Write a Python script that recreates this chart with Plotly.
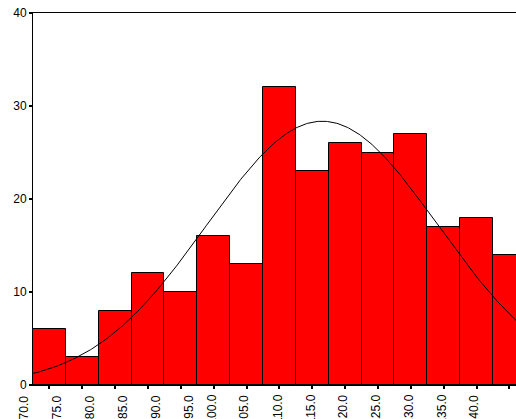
import numpy as np
import plotly.graph_objects as go

# Histogram bins (midpoints) and their frequencies
bin_mids = [70, 75, 80, 85, 90, 95, 100, 105, 110, 115, 120, 125, 130, 135, 140]
counts = [6, 3, 8, 12, 10, 16, 13, 32, 23, 26, 25, 27, 17, 18, 14]
bin_width = 5
tick_labels = [f"{v:.1f}" for v in bin_mids]
y_ticks = [0, 10, 20, 30, 40]

FONT = "Arial, 'Liberation Sans', sans-serif"

# Normal curve fitted to the binned data, scaled to counts per bin
mids = np.array(bin_mids, dtype=float)
freq = np.array(counts, dtype=float)
n_total = freq.sum()
mean = (mids * freq).sum() / n_total
sd = np.sqrt(((mids - mean) ** 2 * freq).sum() / (n_total - 1))
xs = np.linspace(mids[0] - bin_width, mids[-1] + bin_width, 400)
ys = n_total * bin_width / (sd * np.sqrt(2 * np.pi)) * np.exp(-0.5 * ((xs - mean) / sd) ** 2)

fig = go.Figure()
fig.add_trace(go.Bar(
    x=bin_mids, y=counts, width=bin_width,
    marker=dict(color="#FF0000", line=dict(color="black", width=1)),
    hoverinfo="x+y",
))
fig.add_trace(go.Scatter(
    x=xs, y=ys, mode="lines",
    line=dict(color="black", width=1),
    hoverinfo="skip",
))

x_left = mids[0] - bin_width / 2
x_right = 141.0
PLOT_H = 419 - 13 - 34

# Vertical category labels hang below the axis, offset to the left of each tick;
# longer labels run past the bottom edge of the figure.
label_top = -9 / PLOT_H
for v, txt in zip(bin_mids, tick_labels):
    fig.add_annotation(
        x=v, xref="x", y=label_top, yref="paper",
        text=txt, textangle=-90, showarrow=False,
        xanchor="center", yanchor="top", borderpad=0,
        xshift=-25 if len(txt) <= 4 else -35,
        font=dict(family=FONT, size=12, color="black"),
    )

fig.update_layout(
    width=516, height=419,
    margin=dict(l=33, r=0, t=13, b=34, autoexpand=False),
    paper_bgcolor="white", plot_bgcolor="white",
    showlegend=False, bargap=0,
    font=dict(family=FONT, size=12, color="black"),
    xaxis=dict(
        range=[x_left, x_right], automargin=False,
        tickmode="array", tickvals=bin_mids, showticklabels=False,
        ticks="outside", ticklen=3, tickwidth=2, tickcolor="black",
        showline=True, linecolor="black", linewidth=1, mirror=True,
        showgrid=False, zeroline=False,
    ),
    yaxis=dict(
        range=[0, 40], automargin=False,
        tickmode="array", tickvals=y_ticks,
        ticks="outside", ticklen=3, tickwidth=2, tickcolor="black",
        showline=True, linecolor="black", linewidth=1,
        showgrid=False, zeroline=False,
        tickfont=dict(family=FONT, size=12, color="black"),
    ),
)

fig.write_html("out.html")
